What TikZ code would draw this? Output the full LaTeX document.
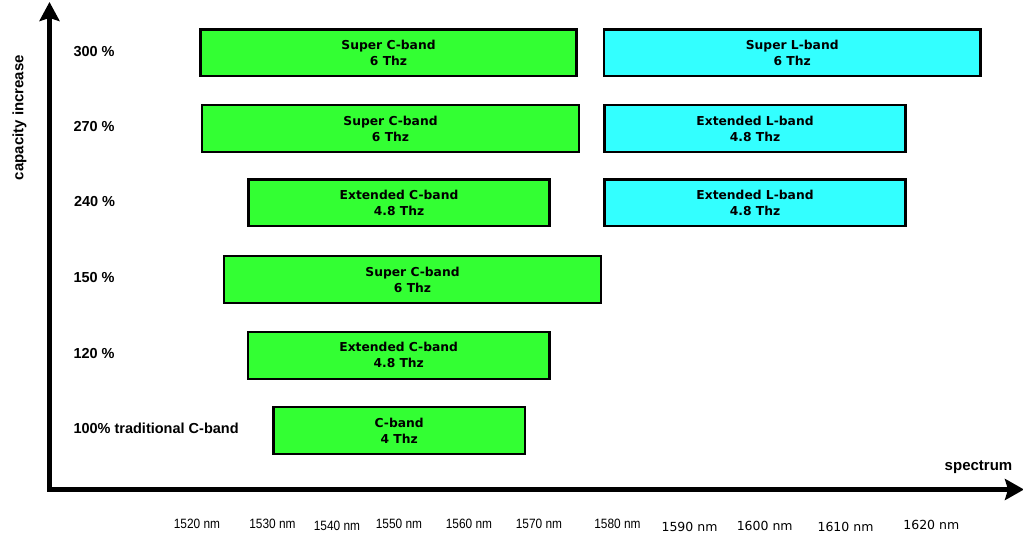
\documentclass[tikz,border=0pt]{standalone}
\usepackage{fontspec}
\usetikzlibrary{arrows.meta}
\newfontfamily\bandfont{DejaVu Sans}
\newfontfamily\labfont{Liberation Sans}
\newfontfamily\tickfont[FakeStretch=0.88]{Liberation Sans}
\newfontfamily\tickfontb{DejaVu Sans}
\definecolor{bandgreen}{RGB}{51,255,51}
\definecolor{bandcyan}{RGB}{51,255,255}
\tikzset{
  band/.style={draw=black, line width=2.3pt, rectangle, inner sep=0pt,
    minimum height=46.7pt, align=center,
    font=\bandfont\bfseries\fontsize{12.3}{16}\selectfont},
  cband/.style={band, fill=bandgreen},
  lband/.style={band, fill=bandcyan},
  caplabel/.style={anchor=base west, inner sep=0pt,
    font=\labfont\bfseries\fontsize{14.5}{17}\selectfont},
  axlabel/.style={anchor=base, inner sep=0pt,
    font=\labfont\bfseries\fontsize{15}{18}\selectfont},
  tickA/.style={anchor=base, inner sep=0pt,
    font=\tickfont\fontsize{13.5}{16}\selectfont},
  tickB/.style={anchor=base, inner sep=0pt,
    font=\tickfontb\fontsize{12.5}{15}\selectfont},
  axis/.style={line width=4.5pt, line join=miter,
    arrows={Stealth[length=19pt,width=20pt,inset=3pt]-Stealth[length=19pt,width=21pt,inset=3pt]}}
}
\begin{document}
\begin{tikzpicture}[x=1pt,y=-1pt]
\useasboundingbox (0,0) rectangle (1023,534);
% axes
\coordinate (ytip) at (49.5,2);
\coordinate (origin) at (49.5,489.5);
\coordinate (xtip) at (1024,489.5);
\draw[axis] (ytip) -- (origin) -- (xtip);
\node[axlabel, rotate=90] (ylab) at (23.3,117.5) {capacity increase};
\node[axlabel] (xlab) at (978.5,470.5) {spectrum};
% capacity labels
\node[caplabel] (l300) at (73.3,56.1) {300 \%};
\node[caplabel] (l270) at (73.3,132) {270 \%};
\node[caplabel] (l240) at (73.8,206.3) {240 \%};
\node[caplabel] (l150) at (73.3,283) {150 \%};
\node[caplabel] (l120) at (73.3,358.6) {120 \%};
\node[caplabel] (l100) at (73.3,433.6) {100\% traditional C-band};
% bands
\node[cband, minimum width=376.1pt] (g1) at (388.5,52.8) {Super C-band\\6 Thz};
\node[lband, minimum width=376.7pt] (c1) at (792.2,52.8) {Super L-band\\6 Thz};
\node[cband, minimum width=376.7pt] (g2) at (390.5,128.65) {Super C-band\\6 Thz};
\node[lband, minimum width=301.1pt] (c2) at (755,128.65) {Extended L-band\\4.8 Thz};
\node[cband, minimum width=301.1pt] (g3) at (399,203) {Extended C-band\\4.8 Thz};
\node[lband, minimum width=301.1pt] (c3) at (755,203) {Extended L-band\\4.8 Thz};
\node[cband, minimum width=377.3pt] (g4) at (412.5,279.65) {Super C-band\\6 Thz};
\node[cband, minimum width=301.7pt] (g5) at (398.7,355.35) {Extended C-band\\4.8 Thz};
\node[cband, minimum width=251.4pt] (g6) at (399.15,430.65) {C-band\\4 Thz};
% tick labels
\node[tickA] (t1520) at (197,528.7) {1520 nm};
\node[tickA] (t1530) at (272.5,528.7) {1530 nm};
\node[tickA] (t1540) at (337,530) {1540 nm};
\node[tickA] (t1550) at (399,528.7) {1550 nm};
\node[tickA] (t1560) at (469,528.5) {1560 nm};
\node[tickA] (t1570) at (539,528.5) {1570 nm};
\node[tickA] (t1580) at (617.5,528.5) {1580 nm};
\node[tickB] (t1590) at (689.5,531.5) {1590 nm};
\node[tickB] (t1600) at (764.7,530) {1600 nm};
\node[tickB] (t1610) at (845.5,531) {1610 nm};
\node[tickB] (t1620) at (931.3,529.3) {1620 nm};
\end{tikzpicture}
\end{document}
